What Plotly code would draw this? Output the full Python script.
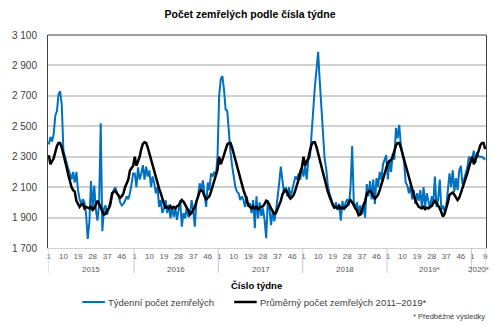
import plotly.graph_objects as go

# ---------------- data ----------------
years = ["2015", "2016", "2017", "2018", "2019*", "2020*"]
weeks_in_year = [53, 52, 52, 52, 52, 9]
week_tick_labels = [1, 10, 19, 28, 37, 46]
week_tick_labels_2020 = [1, 9]

blue_2015 = [2380, 2430, 2400, 2450, 2570, 2600, 2710, 2730, 2640, 2340,
             2300, 2250, 2220, 2190, 2150, 2200, 2130, 2200, 2080, 2020,
             1990, 2020, 2000, 1920, 1760, 1870, 2140, 1960, 2110, 1950,
             1880, 1990, 2520, 1810, 1960, 1980, 1920, 1960, 1980, 2040,
             2080, 2100, 2060, 2040, 2000, 1980, 1990, 2010, 2040, 2020,
             2060, 2120, 2190]
blue_2016 = [2190, 2100, 2230, 2150, 2190, 2245, 2150, 2235, 2170, 2210,
             2100, 2170, 2125, 2060, 2100, 1970, 2015, 1930, 1960, 2015,
             1930, 1985, 1895, 1970, 1905, 1960, 1885, 1950, 2015, 1840,
             1930, 1895, 1970, 1905, 1915, 2015, 1950, 1840, 2010, 2040,
             2125, 2080, 2145, 2050, 1970, 2130, 2080, 2190, 2170, 2200,
             2180, 2300]
blue_2017 = [2700, 2810, 2830, 2740, 2610, 2600, 2450, 2330, 2240, 2150,
             2100, 2070, 2060, 2015, 2040, 2015, 1970, 2040, 1970, 1995,
             1930, 2015, 1830, 2040, 1895, 2000, 1910, 1960, 1885, 1765,
             2015, 1960, 1850, 1940, 1875, 1940, 2015, 2125, 2235, 2145,
             2060, 2100, 2040, 2100, 2040, 2080, 2125, 2170, 2150, 2190,
             2150, 2230]
blue_2018 = [2170, 2240, 2150, 2280, 2300, 2480, 2620, 2760, 2870, 2990,
             2800, 2620, 2430, 2290, 2220, 2110, 2060, 2020, 1990, 1960,
             2000, 1950, 1990, 1880, 2010, 1950, 2000, 2020, 1980, 2100,
             2370, 2000, 1960, 2000, 1930, 1980, 1920, 1990, 1900, 2120,
             2040, 2140, 2020, 2150, 1990, 2160, 2100, 2200, 2150, 2250,
             2280, 2310]
blue_2019 = [2150, 2280, 2200, 2320, 2280, 2490, 2420, 2510, 2380, 2330,
             2260, 2130, 2110, 2060, 2110, 2020, 2080, 1990, 2060, 2010,
             2080, 1960, 2100, 1970, 2060, 2010, 1960, 2040, 1990, 2170,
             1970, 2020, 2150, 1950, 1980, 1940, 1980, 2080, 2190, 2100,
             2210, 2070, 2160, 2080, 2210, 2240, 2120, 2150, 2190, 2230,
             2300, 2280]
blue_2020 = [2290, 2340, 2260, 2330, 2300, 2300, 2300, 2290, 2280]

black_2015 = [2310, 2250, 2270, 2290, 2330, 2370, 2390, 2390, 2360, 2320,
              2280, 2230, 2180, 2140, 2100, 2080, 2070, 2010, 1990, 1970,
              1985, 1990, 1960, 1970, 1965, 1960, 1975, 1950, 1960, 1990,
              2010, 1990, 1960, 1940, 1920, 1925, 1950, 1960, 2000, 2060,
              2070, 2075, 2060, 2040, 2030, 2040, 2060, 2100, 2120, 2150,
              2210, 2230, 2240]
black_2016 = [2300, 2240, 2270, 2300, 2350, 2385, 2395, 2390, 2360, 2320,
              2280, 2240, 2200, 2160, 2120, 2090, 2060, 2020, 1990, 1965,
              1970, 1960, 1975, 1960, 1970, 1960, 1975, 1980, 1995, 2015,
              2005, 1980, 1965, 1950, 1920, 1930, 1950, 1970, 2005, 2045,
              2070, 2080, 2070, 2040, 2020, 2030, 2040, 2070, 2110, 2140,
              2190, 2215]
black_2017 = [2300, 2250, 2280, 2310, 2340, 2380, 2390, 2390, 2360, 2320,
              2270, 2230, 2190, 2150, 2110, 2080, 2050, 2010, 1980, 1970,
              1960, 1975, 1960, 1970, 1955, 1965, 1970, 1975, 1990, 2010,
              2000, 1985, 1960, 1945, 1925, 1930, 1955, 1975, 2010, 2050,
              2075, 2080, 2065, 2040, 2025, 2035, 2050, 2080, 2110, 2150,
              2200, 2230]
black_2018 = [2300, 2240, 2270, 2290, 2340, 2380, 2395, 2395, 2365, 2320,
              2280, 2230, 2190, 2150, 2110, 2070, 2040, 2010, 1985, 1965,
              1970, 1960, 1975, 1960, 1965, 1960, 1970, 1980, 2000, 2015,
              2000, 1975, 1960, 1945, 1915, 1920, 1950, 1975, 2010, 2055,
              2070, 2075, 2065, 2040, 2025, 2035, 2050, 2080, 2115, 2150,
              2180, 2220]
black_2019 = [2260, 2270, 2280, 2300, 2340, 2375, 2390, 2390, 2360, 2320,
              2280, 2240, 2200, 2160, 2125, 2090, 2050, 2010, 1990, 1970,
              1965, 1960, 1970, 1955, 1965, 1960, 1970, 1975, 1995, 2010,
              1995, 1980, 1960, 1935, 1906, 1925, 1960, 2000, 2050, 2060,
              2065, 2050, 2030, 2015, 2030, 2060, 2100, 2120, 2160, 2190,
              2230, 2260]
black_2020 = [2300, 2250, 2280, 2300, 2340, 2375, 2390, 2390, 2350]

y_ticks = [1700, 1900, 2100, 2300, 2500, 2700, 2900, 3100]

# ---------------- build ----------------
blue = blue_2015 + blue_2016 + blue_2017 + blue_2018 + blue_2019 + blue_2020
black = black_2015 + black_2016 + black_2017 + black_2018 + black_2019 + black_2020
n = len(blue)
x = list(range(n))

offsets = []
acc = 0
for w in weeks_in_year:
    offsets.append(acc)
    acc += w

tickvals, ticktext = [], []
for i, off in enumerate(offsets):
    labs = week_tick_labels if i < len(years) - 1 else week_tick_labels_2020
    for wk in labs:
        tickvals.append(off + wk - 1)
        ticktext.append(str(wk))

FONT = "Liberation Sans, Arial, sans-serif"
fig = go.Figure()
fig.add_trace(go.Scatter(x=x, y=blue, mode="lines", name="Týdenní počet zemřelých",
                         line=dict(color="#0070C0", width=2)))
fig.add_trace(go.Scatter(x=x, y=black, mode="lines", name="Průměrný počet zemřelých 2011–2019*",
                         line=dict(color="#000000", width=2.5)))

L, R, T, B = 39, 486, 35, 248
W, H = 500, 326
pw, ph = R - L, B - T

def px(xp):
    return (xp - L) / pw

def py(yp):
    return (B - yp) / ph

shapes = []
annotations = []
# year dividers
bounds = [o - 0.5 for o in offsets] + [n - 0.5]
for b in bounds:
    shapes.append(dict(type="line", xref="x", yref="paper", x0=b, x1=b,
                       y0=0, y1=py(273), line=dict(color="#c8c8c8", width=1)))
# year labels
for i, yl in enumerate(years):
    cx = (bounds[i] + bounds[i + 1]) / 2
    annotations.append(dict(text=yl, xref="x", yref="paper", x=cx, y=py(269),
                            showarrow=False, xanchor="center", yanchor="middle",
                            font=dict(size=8, color="#595959", family=FONT)))
# top frame
shapes.append(dict(type="line", xref="paper", yref="paper", x0=0, x1=1, y0=1, y1=1,
                   line=dict(color="#404040", width=1)))
# axis title
annotations.append(dict(text="<b>Číslo týdne</b>", xref="paper", yref="paper",
                        x=px(252), y=py(285), showarrow=False, xanchor="center",
                        yanchor="middle", font=dict(size=9.5, color="#000000", family=FONT)))
# legend
shapes.append(dict(type="line", xref="paper", yref="paper", x0=px(74), x1=px(97),
                   y0=py(302), y1=py(302), line=dict(color="#0070C0", width=2)))
annotations.append(dict(text="Týdenní počet zemřelých", xref="paper", yref="paper",
                        x=px(98), y=py(302), showarrow=False, xanchor="left",
                        yanchor="middle", font=dict(size=9.5, color="#404040", family=FONT)))
shapes.append(dict(type="line", xref="paper", yref="paper", x0=px(229), x1=px(252),
                   y0=py(302), y1=py(302), line=dict(color="#000000", width=2.5)))
annotations.append(dict(text="Průměrný počet zemřelých 2011–2019*", xref="paper", yref="paper",
                        x=px(253), y=py(302), showarrow=False, xanchor="left",
                        yanchor="middle", font=dict(size=9.5, color="#404040", family=FONT)))
annotations.append(dict(text="* Předběžné výsledky", xref="paper", yref="paper",
                        x=px(487), y=py(316), showarrow=False, xanchor="right",
                        yanchor="middle", font=dict(size=7.5, color="#404040", family=FONT)))

fig.update_layout(
    width=W, height=H,
    margin=dict(l=L, r=W - R, t=T, b=H - B),
    paper_bgcolor="white", plot_bgcolor="white",
    showlegend=False,
    title=dict(text="<b>Počet zemřelých podle čísla týdne</b>", x=0.5, xanchor="center",
               y=1 - 14 / H, yanchor="middle",
               font=dict(size=10.5, color="#000000", family=FONT)),
    xaxis=dict(range=[-0.5, n - 0.5], tickmode="array", tickvals=tickvals, ticktext=ticktext,
               showgrid=False, zeroline=False, showline=True, linecolor="#d0d0d0", linewidth=1,
               ticks="", tickfont=dict(size=8, color="#595959", family=FONT)),
    yaxis=dict(range=[1700, 3100], tickmode="array", tickvals=y_ticks,
               ticktext=[f"{v // 1000} {v % 1000:03d}" for v in y_ticks],
               showgrid=True, gridcolor="#d0d0d0", gridwidth=1.5, zeroline=False,
               showline=True, linecolor="#404040", linewidth=1, mirror=True,
               ticks="", ticklabelstandoff=8,
               tickfont=dict(size=10, color="#404040", family=FONT)),
    shapes=shapes, annotations=annotations,
)

fig.write_html("out.html", config={"displayModeBar": False})
